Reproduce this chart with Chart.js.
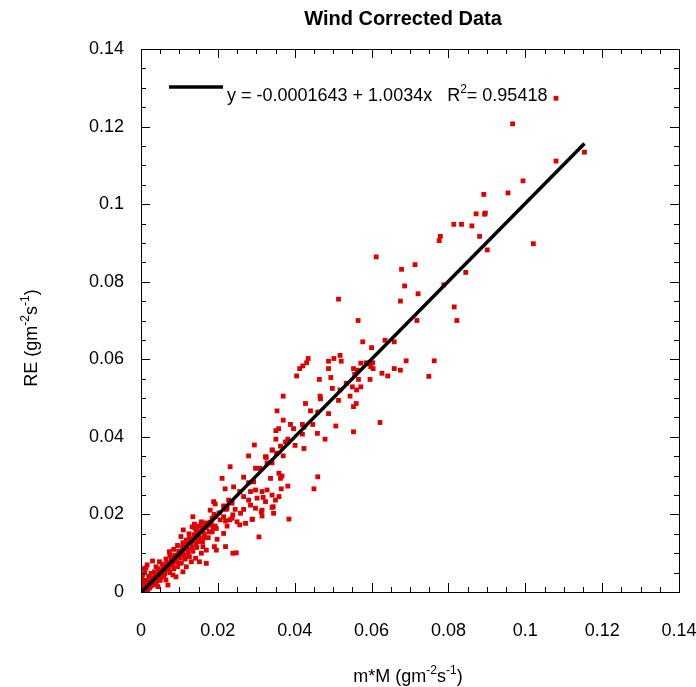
<!DOCTYPE html>
<html>
<head>
<meta charset="utf-8">
<title>Wind Corrected Data</title>
<script src="https://cdn.jsdelivr.net/npm/chart.js@4/dist/chart.umd.min.js"></script>
<style>
  html, body { margin: 0; padding: 0; background: #fff; }
</style>
</head>
<body>
<canvas id="chart" width="696" height="687"></canvas>
<script>
// m*M (x) and RE (y)
const mmX = [
  // upper scatter
  0.1080,0.0967,0.1080,0.1154,0.0994,0.0955,0.0892,0.0872,0.0894,0.0896,
  0.0814,0.0834,0.0861,0.0779,0.0776,0.0881,0.0901,0.1021,0.0612,0.0678,
  0.0713,0.0845,0.0686,0.0721,0.0788,0.0514,0.0675,0.0815,0.0565,0.0718,
  0.0822,0.0577,0.0635,0.0659,0.0600,0.0763,0.0749,0.0690,
  // 0.035 - 0.065
  0.0435,0.0431,0.0421,0.0413,0.0405,0.0502,0.0518,0.0521,0.0488,0.0488,
  0.0464,0.0494,0.0572,0.0586,0.0594,0.0603,0.0598,0.0553,0.0563,0.0556,
  0.0604,0.0627,0.0642,0.0659,0.0675,0.0596,0.0566,0.0534,0.0550,0.0561,
  0.0572,0.0518,0.0498,0.0466,0.0467,0.0514,0.0544,0.0560,0.0553,0.0370,
  0.0428,0.0441,0.0460,0.0488,0.0354,0.0370,0.0389,0.0397,0.0420,0.0424,
  0.0447,0.0507,0.0622,0.0553,0.0459,0.0420,0.0351,0.0358,0.0351,0.0376,
  0.0382,0.0363,0.0401,0.0424,0.0479,0.0342,0.0370,0.0353,0.0326,
  // 0.015 - 0.04
  0.0295,0.0280,0.0324,0.0341,0.0328,0.0341,0.0232,0.0298,0.0309,0.0267,
  0.0211,0.0359,0.0367,0.0363,0.0337,0.0293,0.0280,0.0241,0.0219,0.0382,
  0.0365,0.0450,0.0460,0.0257,0.0285,0.0298,0.0315,0.0328,0.0341,0.0350,
  0.0359,0.0267,0.0280,0.0302,0.0318,0.0324,0.0189,0.0180,0.0228,0.0237,
  0.0224,0.0245,0.0267,0.0285,0.0298,0.0315,0.0341,0.0345,0.0315,0.0193,
  0.0215,0.0237,0.0206,0.0259,0.0385,0.0289,0.0272,0.0250,0.0172,0.0193,
  0.0163,0.0224,
  0.0307,0.0257,0.0290,0.0344,0.0313,0.0248,
  // 0 - 0.025
  0.0193,0.0215,0.0203,0.0222,0.0239,0.0231,0.0220,0.0135,0.0139,0.0133,
  0.0157,0.0144,0.0196,0.0215,0.0198,0.0220,0.0239,0.0191,0.0196,0.0104,
  0.0118,0.0126,0.0109,0.0148,0.0161,0.0170,0.0157,0.0142,0.0152,0.0170,
  0.0074,0.0083,0.0096,0.0109,0.0126,0.0131,0.0100,0.0118,0.0109,0.0048,
  0.0039,0.0061,0.0070,0.0052,0.0083,0.0091,0.0065,0.0039,0.0026,0.0026,
  0.0004,0.0000,0.0009,0.0002,0.0000,0.0017,0.0044,0.0070,0.0013,0.0001,
  0.0010,0.0020,0.0030,0.0035,0.0045,0.0055,0.0060,0.0068,0.0075,0.0080,
  0.0088,0.0095,0.0100,0.0105,0.0112,0.0118,0.0122,0.0130,0.0135,0.0140,
  0.0145,0.0150,0.0155,0.0160,0.0165,0.0170,0.0175,0.0180,0.0185,0.0190,
  0.0085,0.0095,0.0075,0.0065,0.0055,0.0045,0.0035,0.0020,0.0010,0.0005,
  0.0015,0.0025,0.0040,0.0050,0.0060,0.0075,0.0085,0.0095,0.0105,0.0115,
  0.0120,0.0135,0.0145,0.0160,0.0175,0.0185,0.0110,0.0125,0.0140,0.0150,
  0.0005,0.0008,0.0012,0.0018,0.0022,0.0028,0.0032,0.0038,0.0042,0.0048,
  0.0052,0.0058,0.0062,0.0068,0.0072,0.0078,0.0082,0.0088,0.0092,0.0098,
  0.0102,0.0108,0.0113,0.0118,0.0123,0.0128,0.0133,0.0138,0.0143,0.0148,
  0.0153,0.0158,0.0163,0.0168,0.0178,0.0183,0.0188,0.0006,0.0016,0.0030
];
const reY = [
  0.1273,0.1207,0.1111,0.1134,0.1060,0.1029,0.1025,0.0975,0.0974,0.0977,
  0.0948,0.0948,0.0944,0.0917,0.0906,0.0917,0.0882,0.0898,0.0864,0.0832,
  0.0844,0.0824,0.0789,0.0769,0.0792,0.0755,0.0750,0.0735,0.0700,0.0700,
  0.0700,0.0645,0.0649,0.0645,0.0630,0.0596,0.0556,0.0596,

  0.0602,0.0591,0.0583,0.0576,0.0557,0.0602,0.0610,0.0595,0.0595,0.0576,
  0.0548,0.0553,0.0590,0.0591,0.0588,0.0591,0.0581,0.0576,0.0572,0.0561,
  0.0576,0.0564,0.0557,0.0576,0.0572,0.0548,0.0548,0.0538,0.0529,0.0521,
  0.0529,0.0521,0.0525,0.0505,0.0498,0.0494,0.0505,0.0486,0.0478,0.0505,
  0.0486,0.0467,0.0464,0.0460,0.0467,0.0443,0.0432,0.0421,0.0432,0.0425,
  0.0432,0.0428,0.0437,0.0413,0.0409,0.0407,0.0416,0.0421,0.0394,0.0387,
  0.0394,0.0376,0.0378,0.0370,0.0394,0.0366,0.0351,0.0358,0.0347,

  0.0379,0.0351,0.0349,0.0366,0.0333,0.0333,0.0323,0.0319,0.0319,0.0296,
  0.0293,0.0306,0.0299,0.0293,0.0293,0.0284,0.0282,0.0271,0.0266,0.0273,
  0.0266,0.0266,0.0297,0.0259,0.0259,0.0263,0.0259,0.0263,0.0250,0.0237,
  0.0246,0.0246,0.0237,0.0242,0.0244,0.0233,0.0233,0.0211,0.0237,0.0229,
  0.0216,0.0213,0.0213,0.0224,0.0216,0.0211,0.0218,0.0203,0.0196,0.0194,
  0.0194,0.0190,0.0186,0.0203,0.0188,0.0187,0.0177,0.0181,0.0177,0.0170,
  0.0168,0.0170,
  0.0142,0.0173,0.0188,0.0220,0.0207,0.0101,

  0.0227,0.0222,0.0204,0.0213,0.0199,0.0186,0.0183,0.0194,0.0175,0.0168,
  0.0181,0.0160,0.0164,0.0151,0.0136,0.0117,0.0100,0.0117,0.0108,0.0143,
  0.0134,0.0138,0.0127,0.0130,0.0117,0.0108,0.0100,0.0087,0.0078,0.0074,
  0.0104,0.0091,0.0095,0.0100,0.0091,0.0078,0.0074,0.0065,0.0052,0.0078,
  0.0065,0.0070,0.0057,0.0048,0.0044,0.0039,0.0031,0.0039,0.0048,0.0027,
  0.0044,0.0031,0.0018,0.0014,0.0001,0.0005,0.0014,0.0018,0.0062,0.0036,
  0.0010,0.0020,0.0025,0.0033,0.0042,0.0050,0.0058,0.0065,0.0072,0.0080,
  0.0085,0.0090,0.0098,0.0105,0.0112,0.0118,0.0110,0.0125,0.0132,0.0140,
  0.0148,0.0145,0.0155,0.0160,0.0150,0.0165,0.0172,0.0180,0.0190,0.0200,
  0.0110,0.0120,0.0095,0.0085,0.0072,0.0060,0.0052,0.0040,0.0050,0.0025,
  0.0012,0.0015,0.0025,0.0030,0.0040,0.0050,0.0060,0.0065,0.0075,0.0085,
  0.0095,0.0105,0.0115,0.0130,0.0140,0.0155,0.0160,0.0150,0.0165,0.0170,
  0.0005,0.0030,0.0008,0.0028,0.0010,0.0035,0.0018,0.0045,0.0030,0.0055,
  0.0038,0.0065,0.0048,0.0075,0.0060,0.0085,0.0070,0.0095,0.0078,0.0105,
  0.0088,0.0115,0.0095,0.0125,0.0103,0.0135,0.0115,0.0148,0.0125,0.0155,
  0.0135,0.0168,0.0140,0.0178,0.0155,0.0175,0.0165,0.0060,0.0070,0.0080
];

// linear fit as printed on the chart
const fitIntercept = -0.0001643;
const fitSlope = 1.0034;
const fitR2 = 0.95418;

const tickValues = [0, 0.02, 0.04, 0.06, 0.08, 0.1, 0.12, 0.14];
const minorStep = 0.005;

const FONT = "'Liberation Sans', Arial, sans-serif";

const points = mmX.map((x, i) => ({ x: x, y: reY[i] }));
const xMin = Math.min(...mmX);
const xMax = Math.max(...mmX);
const fitLine = [xMin, xMax].map(x => ({ x: x, y: fitIntercept + fitSlope * x }));

// draw text with superscript pieces, parts = [[text, isSup], ...]
function drawRich(ctx, parts, x, y, size, align) {
  const supSize = Math.round(size * 0.65);
  let w = 0;
  parts.forEach(p => {
    ctx.font = (p[1] ? supSize : size) + 'px ' + FONT;
    w += ctx.measureText(p[0]).width;
  });
  let cx = align === 'center' ? x - w / 2 : x;
  parts.forEach(p => {
    ctx.font = (p[1] ? supSize : size) + 'px ' + FONT;
    ctx.fillText(p[0], cx, p[1] ? y - size * 0.45 : y);
    cx += ctx.measureText(p[0]).width;
  });
}

const framePlugin = {
  id: 'frame',
  afterDraw(chart) {
    const ctx = chart.ctx;
    const a = chart.chartArea;
    const xs = chart.scales.x;
    const ys = chart.scales.y;
    ctx.save();
    ctx.strokeStyle = '#000';
    ctx.lineWidth = 1;
    ctx.strokeRect(a.left + 0.5, a.top + 0.5, a.right - a.left, a.bottom - a.top);

    // inward ticks on all four sides
    ctx.beginPath();
    const n = Math.round(0.14 / minorStep);
    for (let i = 0; i <= n; i++) {
      const v = i * minorStep;
      const len = i % 4 === 0 ? 9 : 5;
      const px = Math.round(xs.getPixelForValue(v)) + 0.5;
      ctx.moveTo(px, a.bottom); ctx.lineTo(px, a.bottom - len);
      ctx.moveTo(px, a.top); ctx.lineTo(px, a.top + len);
      const py = Math.round(ys.getPixelForValue(v)) + 0.5;
      ctx.moveTo(a.left, py); ctx.lineTo(a.left + len, py);
      ctx.moveTo(a.right, py); ctx.lineTo(a.right - len, py);
    }
    ctx.stroke();

    ctx.fillStyle = '#000';
    ctx.textAlign = 'left';
    ctx.textBaseline = 'alphabetic';

    // title
    ctx.font = 'bold 20px ' + FONT;
    ctx.textAlign = 'center';
    ctx.fillText('Wind Corrected Data', (a.left + a.right) / 2 - 7, 25);
    ctx.textAlign = 'left';

    // x axis title
    drawRich(ctx, [['m*M (gm', false], ['-2', true], ['s', false], ['-1', true], [')', false]],
      (a.left + a.right) / 2 - 2, 682, 18, 'center');

    // y axis title
    ctx.save();
    ctx.translate(37, 338);
    ctx.rotate(-Math.PI / 2);
    drawRich(ctx, [['RE (gm', false], ['-2', true], ['s', false], ['-1', true], [')', false]],
      0, 0, 18, 'center');
    ctx.restore();

    // fit legend
    ctx.lineWidth = 3.5;
    ctx.beginPath();
    ctx.moveTo(a.left + 28, a.top + 38);
    ctx.lineTo(a.left + 82, a.top + 38);
    ctx.stroke();
    drawRich(ctx, [['y = ' + fitIntercept + ' + ' + fitSlope + 'x   R', false], ['2', true], ['= ' + fitR2, false]],
      a.left + 86, a.top + 52, 18, 'left');
    ctx.restore();
  }
};

const tickFont = { family: FONT, size: 18 };

new Chart(document.getElementById('chart'), {
  type: 'scatter',
  data: {
    datasets: [
      {
        type: 'line',
        data: fitLine,
        borderColor: '#000',
        borderWidth: 3.5,
        pointRadius: 0,
        fill: false,
        order: 0
      },
      {
        data: points,
        backgroundColor: '#dd0000',
        borderColor: '#dd0000',
        borderWidth: 0,
        pointStyle: 'rect',
        pointRadius: 3.4,
        order: 1
      }
    ]
  },
  options: {
    responsive: false,
    animation: false,
    layout: { padding: { left: 0, right: 17, top: 49, bottom: 0 } },
    plugins: {
      legend: { display: false },
      tooltip: { enabled: false }
    },
    scales: {
      x: {
        type: 'linear',
        min: 0,
        max: 0.14,
        afterBuildTicks: s => { s.ticks = tickValues.map(v => ({ value: v })); },
        afterFit: s => { s.height = 95; s.paddingLeft = 0; s.paddingRight = 0; },
        grid: { display: false, drawTicks: false },
        border: { display: false },
        ticks: {
          color: '#000',
          font: tickFont,
          padding: 28,
          maxRotation: 0,
          callback: v => String(+v.toFixed(2))
        }
      },
      y: {
        type: 'linear',
        min: 0,
        max: 0.14,
        afterBuildTicks: s => { s.ticks = tickValues.map(v => ({ value: v })); },
        afterFit: s => { s.width = 141; s.paddingTop = 0; s.paddingBottom = 0; },
        grid: { display: false, drawTicks: false },
        border: { display: false },
        ticks: {
          color: '#000',
          font: tickFont,
          padding: 17,
          callback: v => String(+v.toFixed(2))
        }
      }
    }
  },
  plugins: [framePlugin]
});
</script>
</body>
</html>
